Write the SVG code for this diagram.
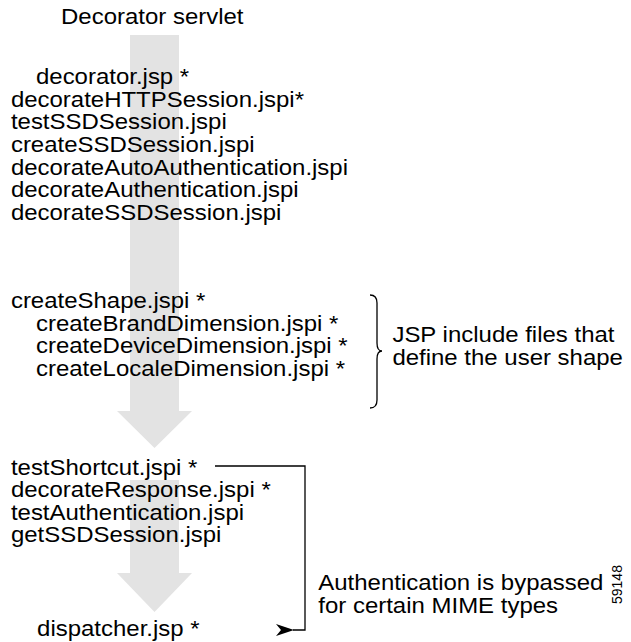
<svg xmlns="http://www.w3.org/2000/svg" width="631" height="642" viewBox="0 0 631 642">
<style>
.t{font-family:"Liberation Sans",Arial,Helvetica,sans-serif;font-size:22px;fill:#000}
.flow{fill:#e3e3e3;stroke:none}
.ln{fill:none;stroke:#000;stroke-width:1.3}
.small{font-family:"Liberation Sans",Arial,Helvetica,sans-serif;font-size:14px;fill:#000}
</style>
<defs>
<marker id="ah" viewBox="0 0 18 12" refX="1" refY="6" markerWidth="18" markerHeight="12" markerUnits="userSpaceOnUse" orient="auto-start-reverse">
<path d="M0,6 L18,0 L13,6 L18,12 Z" fill="#000"/>
</marker>
</defs>
<g id="flow-arrows">
<path class="flow" d="M130,35 H179 V411 H192 L154.5,448 L117,411 H130 Z"/>
<path class="flow" d="M130,480 H179 V573 H192 L154.5,612 L117,573 H130 Z"/>
</g>
<g id="connectors">
<path class="ln" d="M215,466 H305 V630 H293" marker-end="url(#ah)"/>
<path id="brace" class="ln" d="M370,295 Q377,295 377,303 V343 Q377,351 382,351 Q377,351 377,359 V400 Q377,408 370,408"/>
</g>
<g transform="scale(1.09,1)">
<g id="title"><text class="t" x="56" y="24">Decorator servlet</text></g>
<g id="block1">
<text class="t" x="33" y="84">decorator.jsp *</text>
<text class="t" x="10" y="107">decorateHTTPSession.jspi*</text>
<text class="t" x="10" y="129.5">testSSDSession.jspi</text>
<text class="t" x="10" y="152">createSSDSession.jspi</text>
<text class="t" x="10" y="175">decorateAutoAuthentication.jspi</text>
<text class="t" x="10" y="197.5">decorateAuthentication.jspi</text>
<text class="t" x="10" y="220">decorateSSDSession.jspi</text>
</g>
<g id="block2">
<text class="t" x="10" y="308">createShape.jspi *</text>
<text class="t" x="33" y="331">createBrandDimension.jspi *</text>
<text class="t" x="33" y="353.5">createDeviceDimension.jspi *</text>
<text class="t" x="33" y="376">createLocaleDimension.jspi *</text>
</g>
<g id="shape-note">
<text class="t" x="360" y="342">JSP include files that</text>
<text class="t" x="360" y="365">define the user shape</text>
</g>
<g id="block3">
<text class="t" x="10" y="475">testShortcut.jspi *</text>
<text class="t" x="10" y="497.5">decorateResponse.jspi *</text>
<text class="t" x="10" y="520">testAuthentication.jspi</text>
<text class="t" x="10" y="542.5">getSSDSession.jspi</text>
</g>
<g id="bypass-note">
<text class="t" x="292" y="590">Authentication is bypassed</text>
<text class="t" x="292" y="613">for certain MIME types</text>
</g>
<g id="dispatcher"><text class="t" x="34" y="636">dispatcher.jsp *</text></g>
</g>
<g id="figure-id"><text class="small" transform="translate(622,604) rotate(-90)">59148</text></g>
</svg>
